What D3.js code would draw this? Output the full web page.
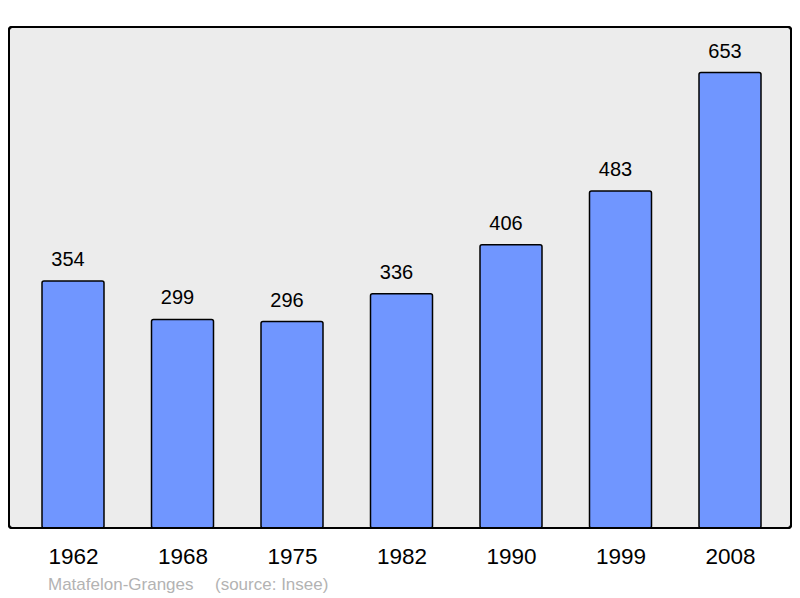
<!DOCTYPE html>
<html><head><meta charset="utf-8">
<script src="https://cdn.jsdelivr.net/npm/d3@7"></script>
<style>html,body{margin:0;padding:0;background:#fff;}svg{display:block;}</style>
</head><body>
<script>
const years = ["1962","1968","1975","1982","1990","1999","2008"];
const population = [354,299,296,336,406,483,653];
const commune = "Matafelon-Granges";
const source = "(source: Insee)";

const W = 800, H = 598;
const svg = d3.select("body").append("svg").attr("width", W).attr("height", H);
const font = "'Liberation Sans', Arial, sans-serif";

const x = d3.scalePoint().domain(years).range([73, 730]);
const y = d3.scaleLinear().domain([0, d3.max(population) * 1.1]).range([528, 27]);
const bw = 62;

svg.append("rect").attr("x", 9).attr("y", 27).attr("width", 782).attr("height", 501)
  .attr("rx", 3).attr("fill", "#ececec").attr("stroke", "#000").attr("stroke-width", 2);

const g = svg.append("g");
g.selectAll("rect.bar").data(years).join("rect").attr("class","bar")
  .attr("x", d => x(d) - bw/2).attr("width", bw)
  .attr("y", (d,i) => y(population[i])).attr("height", (d,i) => y(0) - y(population[i]))
  .attr("rx", 2).attr("fill", "#7096ff").attr("stroke", "#000").attr("stroke-width", 1.5);

g.selectAll("text.val").data(years).join("text").attr("class","val")
  .attr("x", d => x(d) - 5).attr("y", (d,i) => y(population[i]) - 15)
  .attr("text-anchor","middle").attr("font-family", font).attr("font-size", 20).attr("fill","#000")
  .text((d,i) => population[i]);

svg.append("rect").attr("x", 9).attr("y", 27).attr("width", 782).attr("height", 501)
  .attr("rx", 3).attr("fill", "none").attr("stroke", "#000").attr("stroke-width", 2);

const axis = d3.axisBottom(x).tickSize(0).tickPadding(0);
const ag = svg.append("g").attr("transform", "translate(0,564)").call(axis);
ag.select(".domain").remove();
ag.selectAll("text").attr("dy", 0).attr("font-family", font).attr("font-size", 22.5).attr("fill", "#000");

svg.append("text").attr("x", 48).attr("y", 590).attr("font-family", font).attr("font-size", 17)
  .attr("fill", "#b3b3b3").text(commune);
svg.append("text").attr("x", 215).attr("y", 590).attr("font-family", font).attr("font-size", 17)
  .attr("fill", "#b3b3b3").text(source);
</script>
</body></html>
